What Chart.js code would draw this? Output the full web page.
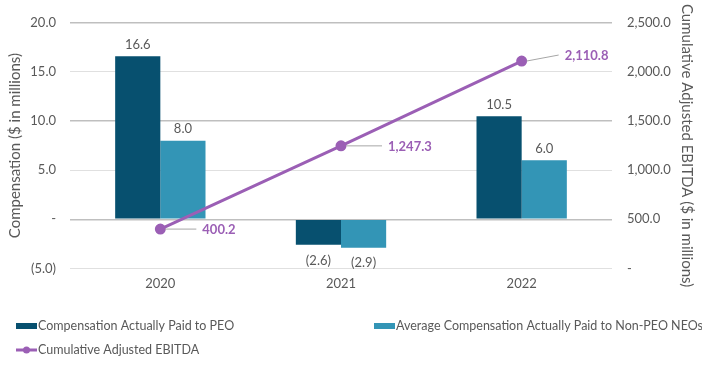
<!DOCTYPE html>
<html>
<head>
<meta charset="utf-8">
<script src="https://cdn.jsdelivr.net/npm/chart.js@4"></script>
<style>
  html, body { margin: 0; padding: 0; background: #fff; }
  #wrap { position: relative; width: 702px; height: 367px; }
</style>
</head>
<body>
<div id="wrap"><canvas id="chart" width="702" height="367"></canvas></div>
<script>
// chart values
var years = ['2020', '2021', '2022'];
var peoPaid = [16.6, -2.6, 10.5];
var neoPaid = [8.0, -2.9, 6.0];
var ebitda = [400.2, 1247.3, 2110.8];

var seriesNames = ['Compensation Actually Paid to PEO', 'Average Compensation Actually Paid to Non-PEO NEOs', 'Cumulative Adjusted EBITDA'];

var DARK = '#07506f';
var LIGHT = '#3395b6';
var PURPLE = '#9b5fb5';
var TEXT = '#595959';
var FONT = 'Lato, "Open Sans", sans-serif';

function fmt(v) {
    if (Math.abs(v) < 1e-9) return '-';
    var s = Math.abs(v).toLocaleString('en-US', {minimumFractionDigits: 1, maximumFractionDigits: 1});
    return v < 0 ? '(' + s + ')' : s;
}

// value labels on bars and the line
var labelPlugin = {
    id: 'labels',
    afterDatasetsDraw: function(chart) {
        var ctx = chart.ctx;
        ctx.save();
        ctx.textAlign = 'center';
        ctx.font = '13px ' + FONT;
        ctx.fillStyle = TEXT;
        [0, 1].forEach(function(di) {
            var meta = chart.getDatasetMeta(di);
            meta.data.forEach(function(bar, i) {
                var v = chart.data.datasets[di].data[i];
                if (v >= 0) {
                    ctx.textBaseline = 'bottom';
                    ctx.fillText(fmt(v), bar.x, bar.y - 5);
                } else {
                    ctx.textBaseline = 'top';
                    ctx.fillText(fmt(v), bar.x, bar.y + 9);
                }
            });
        });
        var lm = chart.getDatasetMeta(2);
        var offs = [[42, 0], [47, 0], [43, -6]];
        ctx.font = 'bold 13px ' + FONT;
        ctx.textAlign = 'left';
        ctx.textBaseline = 'middle';
        lm.data.forEach(function(pt, i) {
            var dx = offs[i][0], dy = offs[i][1];
            ctx.strokeStyle = '#a6a6a6';
            ctx.lineWidth = 1;
            ctx.beginPath();
            ctx.moveTo(pt.x + 5, pt.y);
            ctx.lineTo(pt.x + dx - 6, pt.y + dy);
            ctx.stroke();
            ctx.fillStyle = PURPLE;
            ctx.fillText(fmt(chart.data.datasets[2].data[i]), pt.x + dx, pt.y + dy + 1);
        });
        ctx.restore();
    }
};

// legend drawn in the bottom area
var legendPlugin = {
    id: 'legendBottom',
    afterDraw: function(chart) {
        var ctx = chart.ctx;
        ctx.save();
        ctx.font = '12.5px ' + FONT;
        ctx.textBaseline = 'middle';
        ctx.textAlign = 'left';
        ctx.fillStyle = DARK;
        ctx.fillRect(16, 323, 21, 6);
        ctx.fillStyle = TEXT;
        ctx.fillText(seriesNames[0], 38, 326);
        ctx.fillStyle = LIGHT;
        ctx.fillRect(374, 323, 21, 6);
        ctx.fillStyle = TEXT;
        ctx.fillText(seriesNames[1], 396, 326);
        ctx.strokeStyle = PURPLE;
        ctx.lineWidth = 3;
        ctx.beginPath();
        ctx.moveTo(16, 350);
        ctx.lineTo(37, 350);
        ctx.stroke();
        ctx.fillStyle = PURPLE;
        ctx.beginPath();
        ctx.arc(26.5, 350, 3.5, 0, Math.PI * 2);
        ctx.fill();
        ctx.fillStyle = TEXT;
        ctx.fillText(seriesNames[2], 38, 350);
        ctx.restore();
    }
};

new Chart(document.getElementById('chart'), {
    type: 'bar',
    data: {
        labels: years,
        datasets: [{
            label: seriesNames[0],
            data: peoPaid,
            backgroundColor: DARK,
            yAxisID: 'y',
            order: 2,
            categoryPercentage: 0.5,
            barPercentage: 1.0
        }, {
            label: seriesNames[1],
            data: neoPaid,
            backgroundColor: LIGHT,
            yAxisID: 'y',
            order: 2,
            categoryPercentage: 0.5,
            barPercentage: 1.0
        }, {
            type: 'line',
            label: seriesNames[2],
            data: ebitda,
            borderColor: PURPLE,
            backgroundColor: PURPLE,
            borderWidth: 3,
            pointRadius: 4,
            pointHoverRadius: 4,
            yAxisID: 'y1',
            order: 0
        }]
    },
    options: {
        responsive: false,
        animation: false,
        events: [],
        layout: { padding: { left: 4, right: 4, top: 10, bottom: 67 } },
        plugins: {
            legend: { display: false },
            tooltip: { enabled: false }
        },
        scales: {
            x: {
                grid: { display: false, drawTicks: false },
                border: { display: false },
                ticks: { color: TEXT, font: { family: FONT, size: 13 }, padding: 8 }
            },
            y: {
                position: 'left',
                min: -5, max: 20,
                afterFit: function(s) { s.width = 66; },
                ticks: { stepSize: 5, color: TEXT, font: { family: FONT, size: 13 }, padding: 14, callback: function(v) { return fmt(v); } },
                grid: {
                    drawTicks: false,
                    color: function(c) { return (c.tick && Math.round(c.tick.value) % 10 === 0) ? '#bfbfbf' : '#e0e0e0'; },
                    lineWidth: function(c) { return (c.tick && Math.round(c.tick.value) % 10 === 0) ? 1.5 : 1; }
                },
                border: { display: false },
                title: { display: true, text: 'Compensation ($ in millions)', color: TEXT, font: { family: FONT, size: 15 }, padding: 2 }
            },
            y1: {
                position: 'right',
                min: 0, max: 2500,
                afterFit: function(s) { s.width = 86; },
                ticks: { stepSize: 500, color: TEXT, font: { family: FONT, size: 13 }, padding: 15, callback: function(v) { return fmt(v); } },
                grid: { display: false, drawTicks: false },
                border: { display: false },
                title: { display: true, text: 'Cumulative Adjusted EBITDA ($ in millions)', color: TEXT, font: { family: FONT, size: 15 }, padding: 2 }
            }
        }
    },
    plugins: [labelPlugin, legendPlugin]
});
</script>
</body>
</html>
